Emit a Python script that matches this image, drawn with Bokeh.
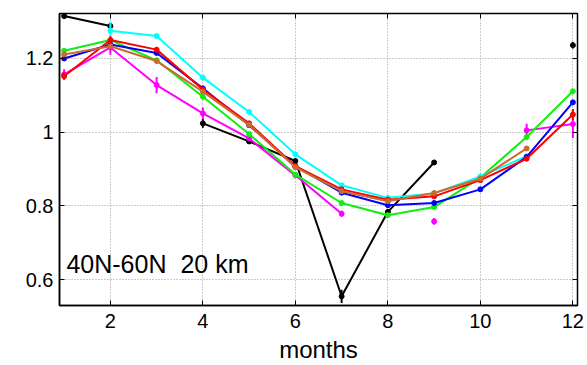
from bokeh.plotting import figure
from bokeh.models import Range1d, FixedTicker, LinearAxis, CustomJSTickFormatter, Label, ColumnDataSource
from bokeh.embed import file_html
from bokeh.resources import INLINE

nan = float("nan")

months = [1, 2, 3, 4, 5, 6, 7, 8, 9, 10, 11, 12]
x_ticks = [2, 4, 6, 8, 10, 12]
y_ticks = [0.6, 0.8, 1.0, 1.2]

black_vals = [1.315, 1.288, nan, 1.024, 0.975, 0.922, 0.555, 0.784, 0.918, nan, nan, 1.236]
black_err = [0.007, nan, nan, 0.012, nan, 0.006, 0.018, nan, nan, nan, nan, 0.009]

magenta_vals = [1.157, 1.230, 1.128, 1.051, 0.983, 0.883, 0.779, nan, 0.758, nan, 1.005, 1.022]
magenta_err = [0.014, 0.020, 0.022, 0.016, 0.006, 0.006, 0.008, nan, 0.009, nan, 0.018, 0.038]

green_vals = [1.221, 1.250, 1.195, 1.096, 0.995, 0.885, 0.808, 0.775, 0.797, 0.877, 0.987, 1.111]
green_err = [nan] * 12

cyan_vals = [nan, 1.275, 1.261, 1.148, 1.055, 0.940, 0.856, 0.822, 0.834, 0.880, 0.935, nan]
cyan_err = [nan, 0.025, nan, nan, nan, nan, nan, nan, nan, nan, 0.006, nan]

blue_vals = [1.200, 1.238, 1.215, 1.119, 1.019, 0.908, 0.836, 0.802, 0.808, 0.845, 0.933, 1.081]
blue_err = [nan] * 12

red_vals = [1.152, 1.250, 1.224, 1.116, 1.024, 0.908, 0.845, 0.817, 0.826, 0.870, 0.928, 1.048]
red_err = [0.010, 0.010, 0.006, nan, nan, nan, nan, nan, nan, nan, nan, 0.015]

orange_vals = [1.211, 1.233, 1.193, 1.110, 1.020, 0.905, 0.840, 0.813, 0.835, 0.874, 0.956, nan]
orange_err = [nan] * 12

series = [
    ("black", black_vals, black_err),
    ("#ff00ff", magenta_vals, magenta_err),
    ("#11ee11", green_vals, green_err),
    ("#00ffff", cyan_vals, cyan_err),
    ("#0000ff", blue_vals, blue_err),
    ("#ff0000", red_vals, red_err),
    ("#cc6a2e", orange_vals, orange_err),
]

p = figure(width=587, height=365, output_backend="svg", toolbar_location=None,
           x_range=Range1d(0.9, 12.1), y_range=Range1d(0.53, 1.322),
           min_border_left=59, min_border_right=10, min_border_top=13, min_border_bottom=60)

p.background_fill_color = "white"
p.border_fill_color = "white"
p.outline_line_color = "black"
p.outline_line_width = 1.5

for color, vals, err in series:
    p.line(months, vals, line_color=color, line_width=2)
    p.scatter(months, vals, size=5, color=color)
    xs, lo, hi = [], [], []
    for m, v, e in zip(months, vals, err):
        if e == e and v == v:
            xs.append(m)
            lo.append(v - e)
            hi.append(v + e)
    if xs:
        src = ColumnDataSource(dict(x=xs, lo=lo, hi=hi))
        p.segment(x0="x", y0="lo", x1="x", y1="hi", source=src, line_color=color, line_width=2)

# dotted grid
for g in (p.xgrid, p.ygrid):
    g.grid_line_color = "#999999"
    g.grid_line_dash = "1 2"
    g.grid_line_width = 1
p.xgrid.ticker = FixedTicker(ticks=x_ticks)
p.ygrid.ticker = FixedTicker(ticks=y_ticks)

fmt_y = CustomJSTickFormatter(code="return Math.abs(tick - 1) < 1e-9 ? '1' : tick.toFixed(1);")
fmt_x = CustomJSTickFormatter(code="return tick.toFixed(0);")
fmt_blank = CustomJSTickFormatter(code="return '';")

font = "Liberation Sans"

xa = p.xaxis[0]
xa.ticker = FixedTicker(ticks=x_ticks)
xa.formatter = fmt_x
xa.axis_label = "months"
xa.axis_label_text_font = font
xa.axis_label_text_font_size = "24px"
xa.axis_label_text_font_style = "normal"
xa.axis_label_text_color = "black"
xa.axis_label_standoff = 5
ya = p.yaxis[0]
ya.ticker = FixedTicker(ticks=y_ticks)
ya.formatter = fmt_y

for ax in (xa, ya):
    ax.major_label_text_font = font
    ax.major_label_text_font_size = "20px"
    ax.major_label_text_color = "black"
    ax.axis_line_color = "black"
    ax.axis_line_width = 1.5
    ax.major_tick_in = 5
    ax.major_tick_out = 0
    ax.minor_tick_in = 0
    ax.minor_tick_out = 0
    ax.major_tick_line_color = "black"
xa.major_label_standoff = 8
ya.major_label_standoff = 6

# box ticks on the top and right edges
top = LinearAxis(ticker=FixedTicker(ticks=x_ticks), formatter=fmt_blank)
right = LinearAxis(ticker=FixedTicker(ticks=y_ticks), formatter=fmt_blank)
for ax in (top, right):
    ax.major_label_standoff = 0
    ax.axis_line_color = None
    ax.major_tick_in = 5
    ax.major_tick_out = 0
    ax.minor_tick_in = 0
    ax.minor_tick_out = 0
    ax.major_tick_line_color = "black"
p.add_layout(top, "above")
p.add_layout(right, "right")

p.add_layout(Label(x=1.05, y=0.605, text="40N-60N\u00a0\u00a020 km", text_font=font,
                   text_font_size="25px", text_color="black"))

open("out.html", "w").write(file_html(p, INLINE))
